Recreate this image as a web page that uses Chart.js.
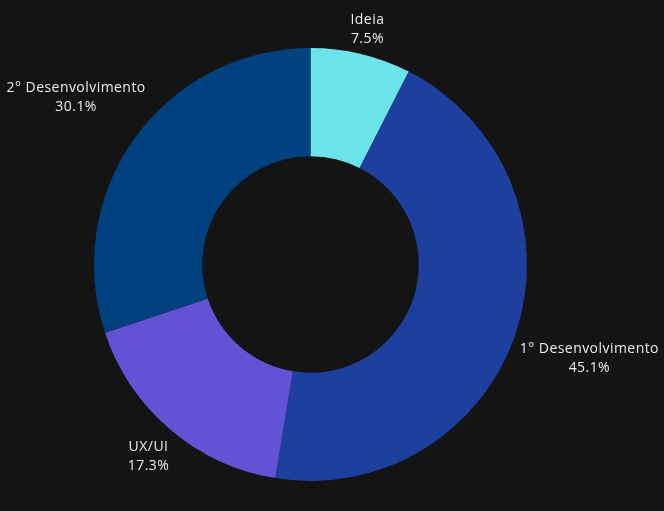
<!DOCTYPE html>
<html><head><meta charset="utf-8">
<script src="https://cdn.jsdelivr.net/npm/chart.js@4"></script>
<style>html,body{margin:0;padding:0;background:#141414;}canvas{display:block;}</style>
</head><body>
<canvas id="c" width="664" height="511"></canvas>
<script>
const categories = ["Ideia", "1° Desenvolvimento", "UX/UI", "2° Desenvolvimento"];
const values = [7.5, 45.1, 17.3, 30.1];
const colors = ["#6ae4e8", "#1d3f9d", "#6252d4", "#014180"];

const FONT = "14px 'Open Sans', sans-serif";
const LINE_H = 19;

const outsideLabels = {
  id: 'outsideLabels',
  afterDatasetsDraw(chart) {
    const ctx = chart.ctx;
    const meta = chart.getDatasetMeta(0);
    const total = values.reduce((a, b) => a + b, 0);
    ctx.save();
    ctx.font = FONT;
    if ('letterSpacing' in ctx) ctx.letterSpacing = '0.45px';
    ctx.fillStyle = '#ececec';
    ctx.textAlign = 'center';
    ctx.textBaseline = 'middle';
    meta.data.forEach((arc, i) => {
      const p = arc.getProps(['x', 'y', 'startAngle', 'endAngle', 'outerRadius'], true);
      const mid = (p.startAngle + p.endAngle) / 2;
      const dx = Math.cos(mid), dy = Math.sin(mid);
      const lines = [categories[i], (values[i] / total * 100).toFixed(1) + '%'];
      const w = Math.max(...lines.map(l => ctx.measureText(l).width));
      const hw = w / 2, hh = lines.length * LINE_H / 2;
      const d = p.outerRadius + 5 + hw * Math.abs(dx) + hh * Math.abs(dy);
      const cx = p.x + dx * d, cy = p.y + dy * d + 2;
      lines.forEach((l, k) => {
        ctx.fillText(l, cx, cy - hh + LINE_H / 2 + k * LINE_H);
      });
    });
    ctx.restore();
  }
};

new Chart(document.getElementById('c'), {
  type: 'doughnut',
  data: {
    labels: categories,
    datasets: [{ data: values, backgroundColor: colors, borderWidth: 0, hoverOffset: 0 }]
  },
  options: {
    responsive: false,
    animation: false,
    cutout: '50%',
    layout: { padding: { top: 48, bottom: 30, left: 94, right: 137 } },
    plugins: { legend: { display: false }, tooltip: { enabled: false } }
  },
  plugins: [outsideLabels]
});
</script>
</body></html>
